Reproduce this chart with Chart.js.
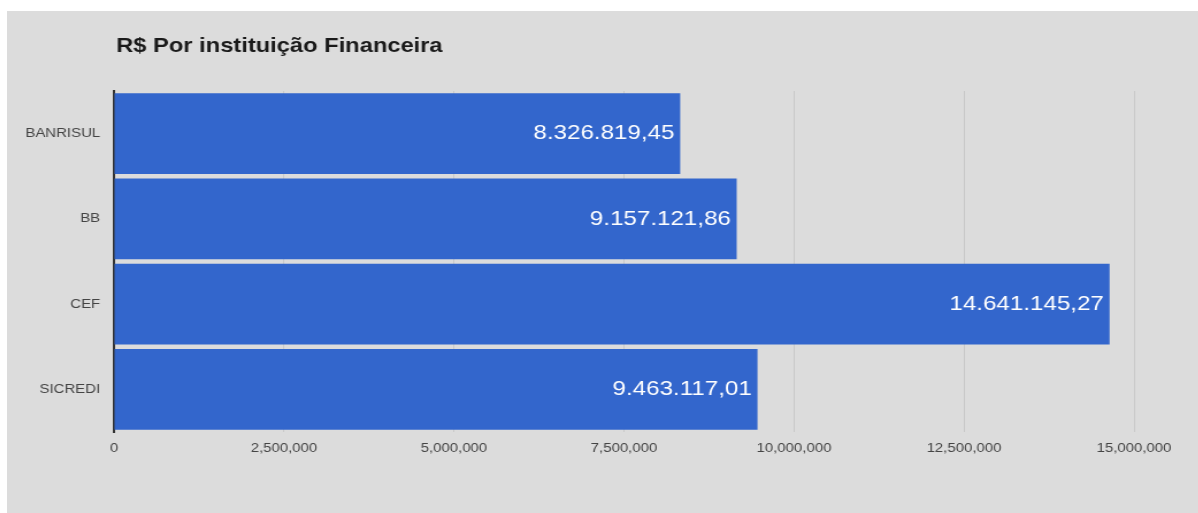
<!DOCTYPE html>
<html>
<head>
<meta charset="utf-8">
<script src="https://cdn.jsdelivr.net/npm/chart.js@4"></script>
<style>
  body { margin: 0; background: #ffffff; }
  #panel { position: absolute; left: 7px; top: 11px; width: 1191px; height: 502px; background: #dcdcdc; overflow: hidden; }
  /* the reference is a slightly widened picture, so the canvas is stretched the same way */
  #bankChart { transform: scaleX(1.15); transform-origin: 0 0; }
</style>
</head>
<body>
<div id="panel"><canvas id="bankChart" width="1036" height="502"></canvas></div>
<script>
const chartTitle = 'R$ Por instituição Financeira';
const banks = ['BANRISUL', 'BB', 'CEF', 'SICREDI'];
const amounts = [8326819.45, 9157121.86, 14641145.27, 9463117.01];
const xTicks = [0, 2500000, 5000000, 7500000, 10000000, 12500000, 15000000];

const FONT = '"Liberation Sans", Arial, sans-serif';

// 8.326.819,45 style for the bar labels
function brl(v) {
    const parts = v.toFixed(2).split('.');
    return parts[0].replace(/\B(?=(\d{3})+(?!\d))/g, '.') + ',' + parts[1];
}
// 2,500,000 style for the axis
function thousands(v) {
    return String(Math.round(v)).replace(/\B(?=(\d{3})+(?!\d))/g, ',');
}

const titleAndLabels = {
    id: 'titleAndLabels',
    afterDatasetsDraw(chart) {
        const ctx = chart.ctx;
        ctx.save();
        ctx.fillStyle = '#ffffff';
        ctx.font = '21px ' + FONT;
        ctx.textAlign = 'right';
        ctx.textBaseline = 'middle';
        chart.getDatasetMeta(0).data.forEach((bar, i) => {
            ctx.fillText(brl(amounts[i]), bar.x - 5, bar.y);
        });
        ctx.fillStyle = '#1a1a1a';
        ctx.font = 'bold 20.6px ' + FONT;
        ctx.textAlign = 'left';
        ctx.fillText(chartTitle, 95, 35);
        ctx.restore();
    }
};

const ctx = document.getElementById('bankChart').getContext('2d');
const bankChart = new Chart(ctx, {
    type: 'bar',
    data: {
        labels: banks,
        datasets: [{
            data: amounts,
            backgroundColor: '#3366cc',
            borderWidth: 0,
            barPercentage: 0.95,
            categoryPercentage: 1
        }]
    },
    options: {
        indexAxis: 'y',
        responsive: false,
        animation: false,
        layout: { padding: { top: 80, right: 56, bottom: 51, left: 0 } },
        plugins: {
            legend: { display: false },
            tooltip: { enabled: false }
        },
        scales: {
            x: {
                min: xTicks[0],
                max: xTicks[xTicks.length - 1],
                afterBuildTicks: function(scale) { scale.ticks = xTicks.map(v => ({ value: v })); },
                afterFit: function(scale) { scale.height = 30; },
                ticks: {
                    color: '#444444',
                    font: { family: FONT, size: 13 },
                    padding: 9,
                    maxRotation: 0,
                    callback: function(value) { return thousands(value); }
                },
                grid: { color: '#c8c8c8', drawTicks: false },
                border: { display: false }
            },
            y: {
                afterFit: function(scale) { scale.width = 93; },
                ticks: {
                    color: '#444444',
                    font: { family: FONT, size: 13 },
                    padding: 12
                },
                grid: { display: false, drawTicks: false },
                border: { display: true, color: '#333333', width: 2 }
            }
        }
    },
    plugins: [titleAndLabels]
});
</script>
</body>
</html>
